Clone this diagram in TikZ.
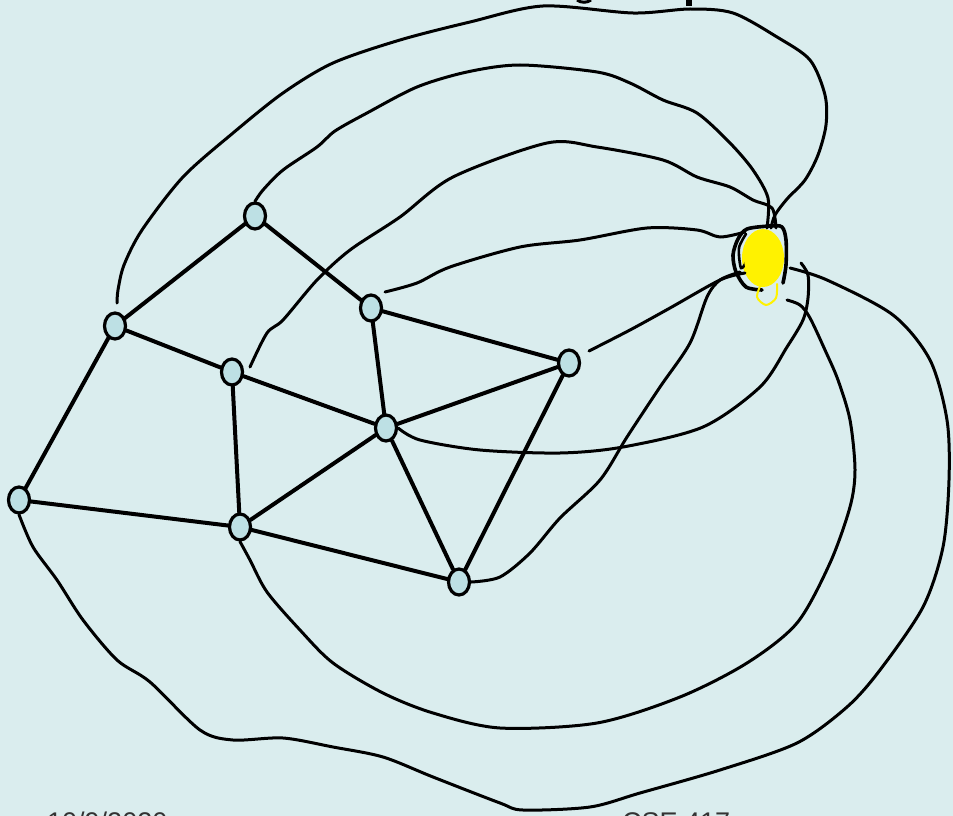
\documentclass[tikz,border=0pt]{standalone}
\usepackage{fontspec}
\setmainfont{Liberation Sans}
\usetikzlibrary{shapes.geometric}
\definecolor{bgc}{HTML}{DAEDEE}
\definecolor{vfill}{HTML}{BDE0E4}
\definecolor{txtc}{HTML}{333333}
\begin{document}
\begin{tikzpicture}[x=1pt,y=-1pt,
  vtx/.style={ellipse, draw=black, line width=3.2pt, fill=vfill, minimum width=21pt, minimum height=26pt, inner sep=0pt},
  edgeline/.style={line width=4pt, line cap=round},
  wire/.style={line width=3pt, line cap=round, line join=round},
  foot/.style={font=\fontsize{27}{30}\selectfont, text=txtc, inner sep=0pt}]
\fill[bgc] (0,0) rectangle (953,816);
\useasboundingbox (0,0) rectangle (953,816);
% title descenders (cut off at top)
\fill[black] (686,0) rectangle (692,6);
\draw[line width=3pt] (577,0) .. controls (581,3) and (587,3) .. (591,0);
% vertices
\node[vtx] (A) at (255,216) {};
\node[vtx] (B) at (115,326) {};
\node[vtx] (C) at (371,308) {};
\node[vtx] (D) at (232,372) {};
\node[vtx] (E) at (569,363) {};
\node[vtx] (F) at (386,428) {};
\node[vtx] (G) at (19,500) {};
\node[vtx] (H) at (240,527) {};
\node[vtx] (I) at (459,582) {};
% yellow blob
\node[ellipse, fill=yellow, minimum width=42pt, minimum height=58pt, inner sep=0pt] (Y) at (763,258) {};
% straight edges
\foreach \u/\v in {A/B,A/C,B/D,B/G,D/F,D/H,C/F,C/E,E/F,E/I,F/H,F/I,G/H,H/I}
  \draw[edgeline] (\u) -- (\v);
% curves to the blob
\draw[wire] plot[smooth] coordinates {(117,303) (118,290) (124,265) (142,230) (183,177) (233,133) (283,93) (333,63) (400,40) (470,22) (543,6) (633,13) (690,9) (733,13) (777,37) (810,60) (825,95) (826,125) (818,155) (805,180) (787,199) (775,215) (771,228)};
\draw[wire] plot[smooth] coordinates {(A.north) (263,190) (283,170) (317,147) (335,131) (367,113) (417,87) (467,72) (520,65) (597,72) (630,83) (663,100) (697,113) (730,143) (753,170) (768,198) (767,228)};
\draw[wire] plot[smooth] coordinates {(250,367) (267,333) (283,320) (317,280) (350,250) (400,217) (453,177) (547,143) (597,147) (663,160) (697,177) (730,187) (753,200) (772,208) (776,228)};
\draw[wire] plot[smooth] coordinates {(385,292) (417,283) (450,267) (520,247) (580,240) (647,228) (697,230) (720,237) (745,232)};
\draw[wire] plot[smooth] coordinates {(589,351) (630,330) (670,308) (720,280) (745,273)};
\draw[wire] plot[smooth] coordinates {(I.east) (500,577) (530,553) (560,518) (600,480) (627,437) (660,387) (690,343) (707,297) (720,280) (740,272)};
\draw[wire] plot[smooth] coordinates {(F.east) (420,440) (480,450) (560,453) (623,447) (703,427) (760,387) (787,347) (803,320) (808,298) (808,275) (801,263)};
\draw[wire] plot[smooth] coordinates {(H.south) (250,560) (267,592) (300,630) (333,663) (383,693) (433,713) (500,728) (597,723) (680,697) (747,663) (797,623) (830,563) (850,507) (855,470) (850,420) (838,380) (825,350) (810,318) (800,305) (787,300)};
\draw[wire] plot[smooth] coordinates {(G.south) (33,547) (57,580) (83,620) (117,660) (150,682) (200,730) (233,740) (283,738) (333,747) (383,757) (433,777) (500,803) (523,810) (590,807) (640,793) (720,770) (797,743) (847,707) (880,670) (923,607) (943,547) (949,480) (947,420) (930,360) (893,315) (827,280) (790,268)};
% blob outline scribbles
\draw[line width=3.6pt, line cap=round, line join=round] plot[smooth] coordinates {(762,290) (746,287) (736,272) (733,255) (738,239) (747,229) (770,226) (782,227) (786,240) (786,265) (783,283)};
\draw[line width=2.6pt, line cap=round] plot[smooth] coordinates {(746,234) (739,248) (741,268) (747,260) (749,244)};
\fill[yellow] (Y.center) ellipse [x radius=19pt, y radius=27pt];
\draw[yellow, line width=2pt, line cap=round] plot[smooth] coordinates {(761,284) (757,297) (766,305) (776,298) (777,284)};
% footer texts (cut off at the bottom)
\node[foot, anchor=north west] (date) at (47,812) {10/9/2020};
\node[foot, anchor=north west] (course) at (622,812) {CSE 417};
\end{tikzpicture}
\end{document}
